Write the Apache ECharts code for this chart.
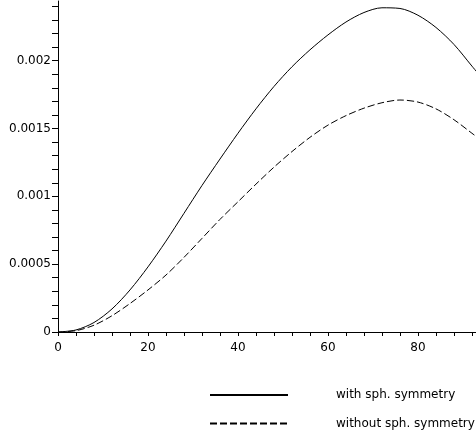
<!DOCTYPE html>
<html>
<head>
<meta charset="utf-8">
<script src="https://cdn.jsdelivr.net/npm/echarts@6/dist/echarts.min.js"></script>
<style>
  html, body { margin: 0; padding: 0; background: #fff; }
  #chart { width: 476px; height: 439px; }
</style>
</head>
<body>
<div id="chart"></div>
<script>
// values
const xs = [0, 4, 8, 12, 16, 20, 24, 28, 32, 36, 40, 44, 48, 52, 56, 60, 64, 68, 72, 76, 80, 84, 88, 92, 93]
const withSym = [0, 0.000015, 0.00007, 0.00017, 0.00031, 0.00048, 0.00067, 0.000875, 0.00108, 0.001275, 0.001465,
  0.001645, 0.00181, 0.001955, 0.00208, 0.00219, 0.002285, 0.002355, 0.00239, 0.002385, 0.002335, 0.002245, 0.00212, 0.00196, 0.00192]
const withoutSym = [0, 0.00001, 0.00005, 0.00012, 0.00021, 0.00031, 0.00042, 0.00055, 0.00069, 0.00083, 0.00096,
  0.00109, 0.001215, 0.00133, 0.001435, 0.001525, 0.001595, 0.00165, 0.00169, 0.00171, 0.001695, 0.001645, 0.001565, 0.001465, 0.00144]
const seriesNames = ['with sph. symmetry', 'without sph. symmetry']

const pairs = (ys) => xs.map((x, i) => [x, ys[i]])

const chart = echarts.init(document.getElementById('chart'))
chart.setOption({
  animation: false,
  textStyle: { fontFamily: 'DejaVu Sans, sans-serif' },
  grid: { left: 58, right: 0, top: 1, bottom: 107 },
  legend: {
    orient: 'vertical',
    left: 209,
    top: 389,
    padding: 0,
    itemWidth: 78,
    itemHeight: 14,
    itemGap: 16.5,
    itemStyle: { opacity: 0 },
    textStyle: { fontSize: 12, color: '#000', padding: [0, 0, 0, 43] },
    data: seriesNames
  },
  xAxis: {
    type: 'value',
    min: 0,
    max: 92.9,
    interval: 4,
    axisLine: { lineStyle: { color: '#000', width: 1 } },
    axisTick: { length: 4, lineStyle: { color: '#000' } },
    axisLabel: {
      color: '#000', fontSize: 12, margin: 10, showMaxLabel: false,
      formatter: (v) => (Math.round(v) % 20 === 0 ? String(Math.round(v)) : '')
    },
    splitLine: { show: false }
  },
  yAxis: {
    type: 'value',
    min: 0,
    max: 0.00244,
    interval: 0.0001,
    axisLine: { show: true, lineStyle: { color: '#000', width: 1 } },
    axisTick: { show: true, length: 6, lineStyle: { color: '#000' } },
    axisLabel: {
      color: '#000', fontSize: 12, margin: 7, showMaxLabel: false,
      formatter: (v) => {
        const k = Math.round(v * 10000)
        return k % 5 === 0 ? String(k / 10000) : ''
      }
    },
    splitLine: { show: false }
  },
  series: [
    {
      name: seriesNames[0],
      type: 'line',
      data: pairs(withSym),
      smooth: 0.3,
      symbol: 'none',
      lineStyle: { color: '#000', width: 1 },
      itemStyle: { color: '#000' }
    },
    {
      name: seriesNames[1],
      type: 'line',
      data: pairs(withoutSym),
      smooth: 0.3,
      symbol: 'none',
      lineStyle: { color: '#000', width: 1, type: [7, 3] },
      itemStyle: { color: '#000' }
    }
  ]
})
</script>
</body>
</html>
